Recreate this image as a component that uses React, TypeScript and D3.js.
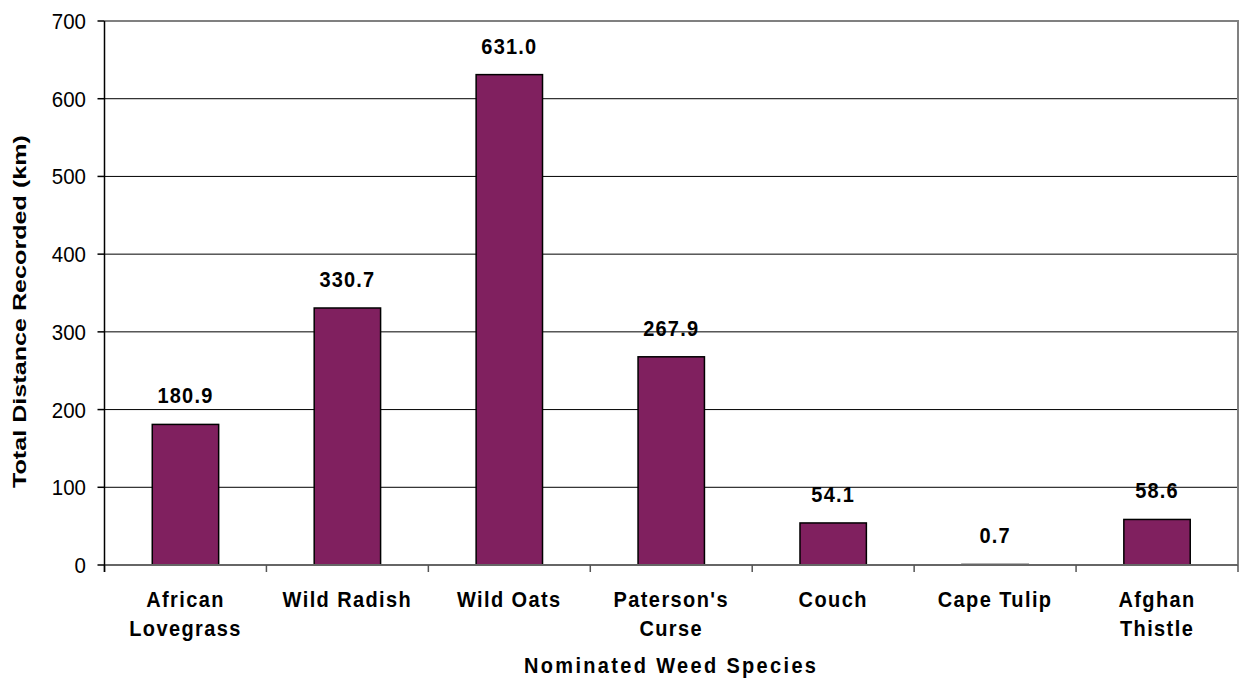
import React from "react";
import { select, scaleBand, scaleLinear, range } from "d3";

const categories = [
  ["African", "Lovegrass"],
  ["Wild Radish"],
  ["Wild Oats"],
  ["Paterson's", "Curse"],
  ["Couch"],
  ["Cape Tulip"],
  ["Afghan", "Thistle"],
];
const distances = [180.9, 330.7, 631.0, 267.9, 54.1, 0.7, 58.6];
const yTicks = [0, 100, 200, 300, 400, 500, 600, 700];

const W = 1239;
const H = 689;
const plot = { left: 104.5, right: 1238, top: 21, bottom: 565 };
const FONT = "'Liberation Sans', Arial, Helvetica, sans-serif";
// the original export is a little taller than wide in its lettering
const SY = 1.12;

export default function App() {
  const svgRef = React.useRef<SVGSVGElement>(null);

  React.useEffect(() => {
    const svg = select(svgRef.current);
    const keys = categories.map((c) => c.join(" "));

    const x = scaleBand<string>()
      .domain(keys)
      .range([plot.left, plot.right])
      .paddingInner(0.59)
      .paddingOuter(0.295);

    const xCat = scaleBand<string>().domain(keys).range([plot.left, plot.right]);

    const y = scaleLinear().domain([0, 700]).range([plot.bottom, plot.top]);

    svg.append("rect").attr("width", W).attr("height", H).attr("fill", "#fff");

    // gridlines
    svg
      .append("g")
      .selectAll("line")
      .data(yTicks.filter((t) => t > 0 && t < 700))
      .join("line")
      .attr("x1", plot.left)
      .attr("x2", plot.right)
      .attr("y1", (d) => y(d))
      .attr("y2", (d) => y(d))
      .attr("stroke", "#000")
      .attr("stroke-width", 1);

    // plot border (top, right)
    svg
      .append("path")
      .attr("d", `M${plot.left},${y(700)}H${plot.right}V${plot.bottom}`)
      .attr("fill", "none")
      .attr("stroke", "#808080")
      .attr("stroke-width", 2);

    // bars
    svg
      .append("g")
      .selectAll("rect")
      .data(distances)
      .join("rect")
      .attr("x", (_, i) => x(keys[i])!)
      .attr("width", x.bandwidth())
      .attr("y", (d) => y(d))
      .attr("height", (d) => y(0) - y(d))
      .attr("fill", "#80205F")
      .attr("stroke", "#000")
      .attr("stroke-width", 1.5);

    // value labels
    svg
      .append("g")
      .selectAll("text")
      .data(distances)
      .join("text")
      .attr(
        "transform",
        (d, i) => `translate(${x(keys[i])! + x.bandwidth() / 2},${y(d) - 21}) scale(1,${SY})`
      )
      .attr("text-anchor", "middle")
      .attr("font-family", FONT)
      .attr("font-weight", "bold")
      .attr("font-size", 20)
      .attr("letter-spacing", 1.2)
      .text((d) => d.toFixed(1));

    // x axis
    svg
      .append("line")
      .attr("x1", plot.left)
      .attr("x2", plot.right)
      .attr("y1", plot.bottom)
      .attr("y2", plot.bottom)
      .attr("stroke", "#666")
      .attr("stroke-width", 2);

    svg
      .append("g")
      .selectAll("line")
      .data(range(keys.length + 1))
      .join("line")
      .attr("x1", (i) => plot.left + i * xCat.step())
      .attr("x2", (i) => plot.left + i * xCat.step())
      .attr("y1", plot.bottom)
      .attr("y2", plot.bottom + 7)
      .attr("stroke", "#555")
      .attr("stroke-width", 1.5);

    const catText = svg
      .append("g")
      .selectAll("text")
      .data(categories)
      .join("text")
      .attr(
        "transform",
        (_, i) => `translate(${xCat(keys[i])! + xCat.bandwidth() / 2},606.5) scale(1,${SY})`
      )
      .attr("text-anchor", "middle")
      .attr("font-family", FONT)
      .attr("font-weight", "bold")
      .attr("font-size", 20)
      .attr("letter-spacing", 1.4);

    catText
      .selectAll("tspan")
      .data((d) => d)
      .join("tspan")
      .attr("x", 0)
      .attr("dy", (_, j) => (j === 0 ? 0 : 30 / SY))
      .text((d) => d);

    // y axis
    svg
      .append("line")
      .attr("x1", plot.left)
      .attr("x2", plot.left)
      .attr("y1", plot.top)
      .attr("y2", plot.bottom + 7)
      .attr("stroke", "#000")
      .attr("stroke-width", 1.5);

    svg
      .append("g")
      .selectAll("line")
      .data(yTicks)
      .join("line")
      .attr("x1", plot.left - 7)
      .attr("x2", plot.left)
      .attr("y1", (d) => y(d))
      .attr("y2", (d) => y(d))
      .attr("stroke", "#000")
      .attr("stroke-width", 1.5);

    svg
      .append("g")
      .selectAll("text")
      .data(yTicks)
      .join("text")
      .attr("transform", (d) => `translate(86,${y(d) + 8}) scale(1,${SY})`)
      .attr("text-anchor", "end")
      .attr("font-family", FONT)
      .attr("font-size", 20.5)
      .text((d) => d);

    // axis titles
    svg
      .append("text")
      .attr("transform", `translate(670,673) scale(1,${SY})`)
      .attr("text-anchor", "middle")
      .attr("font-family", FONT)
      .attr("font-weight", "bold")
      .attr("font-size", 20)
      .attr("textLength", 292)
      .attr("lengthAdjust", "spacing")
      .text("Nominated Weed Species");

    svg
      .append("text")
      .attr("transform", `translate(26,${(135 + 488) / 2}) rotate(-90)`)
      .attr("text-anchor", "middle")
      .attr("font-family", FONT)
      .attr("font-weight", "bold")
      .attr("font-size", 18)
      .attr("textLength", 353)
      .attr("lengthAdjust", "spacingAndGlyphs")
      .text("Total Distance Recorded (km)");

    return () => {
      svg.selectAll("*").remove();
    };
  }, []);

  return (
    <svg
      ref={svgRef}
      width={W}
      height={H}
      style={{ position: "absolute", left: 0, top: 0 }}
    />
  );
}
